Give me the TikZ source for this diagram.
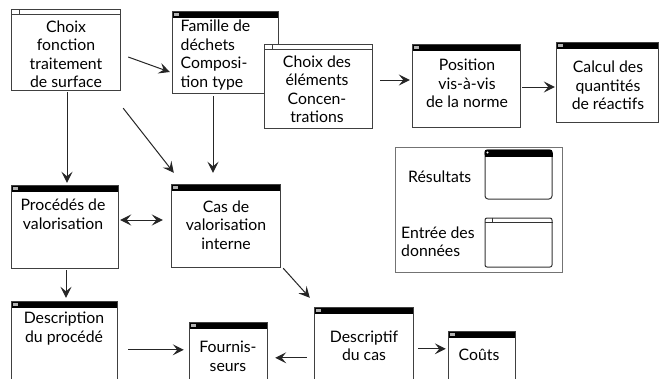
\documentclass[tikz,border=0pt]{standalone}
\usepackage{fontspec}
\setmainfont{Lato}
\usetikzlibrary{arrows.meta,fit,calc}

\newcommand\winres[5]{%
  \node[box, fit={(#2,#3) (#4,#5)}] (#1) {};
  \fill[black] (#1.north west) rectangle ([shift={(0,6)}]#1.north east);
  \fill[black!30] ([shift={(1.5,1.5)}]#1.north west) rectangle ([shift={(6.5,4.5)}]#1.north west);
  \draw[frame] (#1.north west) rectangle (#1.south east);
}
\newcommand\winent[5]{%
  \node[box, fit={(#2,#3) (#4,#5)}] (#1) {};
  \draw[frame, line width=0.8pt] ([shift={(0,4.5)}]#1.north west) -- ([shift={(0,4.5)}]#1.north east);
  \draw[frame, line width=0.8pt] ([shift={(8,0)}]#1.north west) -- ([shift={(8,4.5)}]#1.north west);
  \draw[frame] (#1.north west) rectangle (#1.south east);
}

\begin{document}
\begin{tikzpicture}[x=1pt,y=-1pt,
  box/.style={rectangle, inner sep=0pt, fill=white},
  frame/.style={draw=black!75, line width=1.2pt},
  lbl/.style={inner sep=0pt, align=center, font=\fontsize{15.8}{18.5}\selectfont},
  arr/.style={draw=black!85, line width=1pt, -{Stealth[length=11pt,width=11pt,inset=4.5pt]}},
  darr/.style={draw=black!85, line width=1pt, {Stealth[length=11pt,width=11pt,inset=4.5pt]}-{Stealth[length=11pt,width=11pt,inset=4.5pt]}},
]
\useasboundingbox (0,0) rectangle (660,378);
\clip (0,0) rectangle (660,378);
\fill[white] (0,0) rectangle (660,378);

% windows
\winent{cf}{12}{10}{120}{90}
\winres{fam}{173}{12}{278}{93}
\winent{ce}{265}{45}{372}{128}
\winres{pos}{413}{45}{520}{127}
\winres{calc}{557}{43}{658}{122}
\winres{proc}{12}{186}{118}{268}
\winres{cas}{172}{185}{280}{267}
\winres{desc}{12}{302}{117}{395}
\winres{four}{190}{323}{267}{395}
\winres{dsc}{315}{308}{413}{395}
\winres{couts}{449}{332}{515}{395}

% legend
\node[rectangle, inner sep=0pt, draw=black!55, line width=1pt, fit={(395,147) (562,272)}] (leg) {};
\node[rectangle, inner sep=0pt, draw=black!80, line width=1pt, rounded corners=3pt, fit={(485,150) (552,199)}] (legres) {};
\fill[black, rounded corners=2.5pt] (legres.north west) rectangle ([shift={(0,7)}]legres.north east);
\fill[black] ([shift={(0,3)}]legres.north west) rectangle ([shift={(0,7)}]legres.north east);
\fill[white] ([shift={(3,3)}]legres.north west) circle (1.2);
\node[rectangle, inner sep=0pt, draw=black!80, line width=1pt, rounded corners=2pt, fit={(485,218) (552,267)}] (legent) {};
\draw[black!80, line width=0.8pt] ([shift={(0,5)}]legent.north west) -- ([shift={(0,5)}]legent.north east);
\draw[black!80, line width=0.8pt] ([shift={(8,0)}]legent.north west) -- ([shift={(8,5)}]legent.north west);

% texts
\node[lbl] (tcf) at (66,54) {Choix\\fonction\\traitement\\de surface};
\node[lbl, align=left, anchor=west] (tfam) at (180.5,55) {Famille de\\déchets\\Composi-\\tion type};
\node[lbl] (tce) at (317,89) {Choix des\\éléments\\Concen-\\trations};
\node[lbl] (tpos) at (467,83.5) {Position\\vis-à-vis\\de la norme};
\node[lbl] (tcalc) at (608,85.5) {Calcul des\\quantités\\de réactifs};
\node[lbl] (tproc) at (63,214) {Procédés de\\valorisation};
\node[lbl] (tcas) at (226,225) {Cas de\\valorisation\\interne};
\node[lbl] (tdesc) at (64,328.5) {Description\\du procédé};
\node[lbl] (tfour) at (228,356.5) {Fournis-\\seurs};
\node[lbl] (tdsc) at (364,346) {Descriptif\\du cas};
\node[lbl] (tcout) at (479,355) {Coûts};
\node[lbl, anchor=west] (tres) at (408,177) {Résultats};
\node[lbl, anchor=west, align=left] (tent) at (401,241.5) {Entrée des\\données};

% connectors
\draw[arr] ([shift={(8,7)}]cf.east) -- ([shift={(-3,19.5)}]fam.west);
\draw[arr] ([shift={(8,-6.5)}]ce.east) -- ([shift={(-3,-6)}]pos.west);
\draw[arr] ([shift={(2,1)}]pos.east) -- ([shift={(-2,4.5)}]calc.west);
\draw[arr] ([shift={(1,2)}]cf.south) -- ([shift={(2,-3)}]proc.north);
\draw[arr] ([shift={(3,18)}]cf.south east) -- ([shift={(2,-12)}]cas.north west);
\draw[arr] ([shift={(-12.5,3)}]fam.south) -- ([shift={(-13,-12)}]cas.north);
\draw[darr] ([shift={(2,-7)}]proc.east) -- ([shift={(-9,-6)}]cas.west);
\draw[arr] ([shift={(1,2)}]proc.south) -- ([shift={(1.5,-4)}]desc.north);
\draw[arr] ([shift={(3,1)}]cas.south east) -- ([shift={(-5,-10)}]dsc.north west);
\draw[arr] ([shift={(11,48)}]desc.north east) -- ([shift={(-6,27)}]four.north west);
\draw[arr] ([shift={(-8,50)}]dsc.north west) -- ([shift={(8,35)}]four.north east);
\draw[arr] ([shift={(5,41)}]dsc.north east) -- ([shift={(-3,17)}]couts.north west);
\end{tikzpicture}
\end{document}
